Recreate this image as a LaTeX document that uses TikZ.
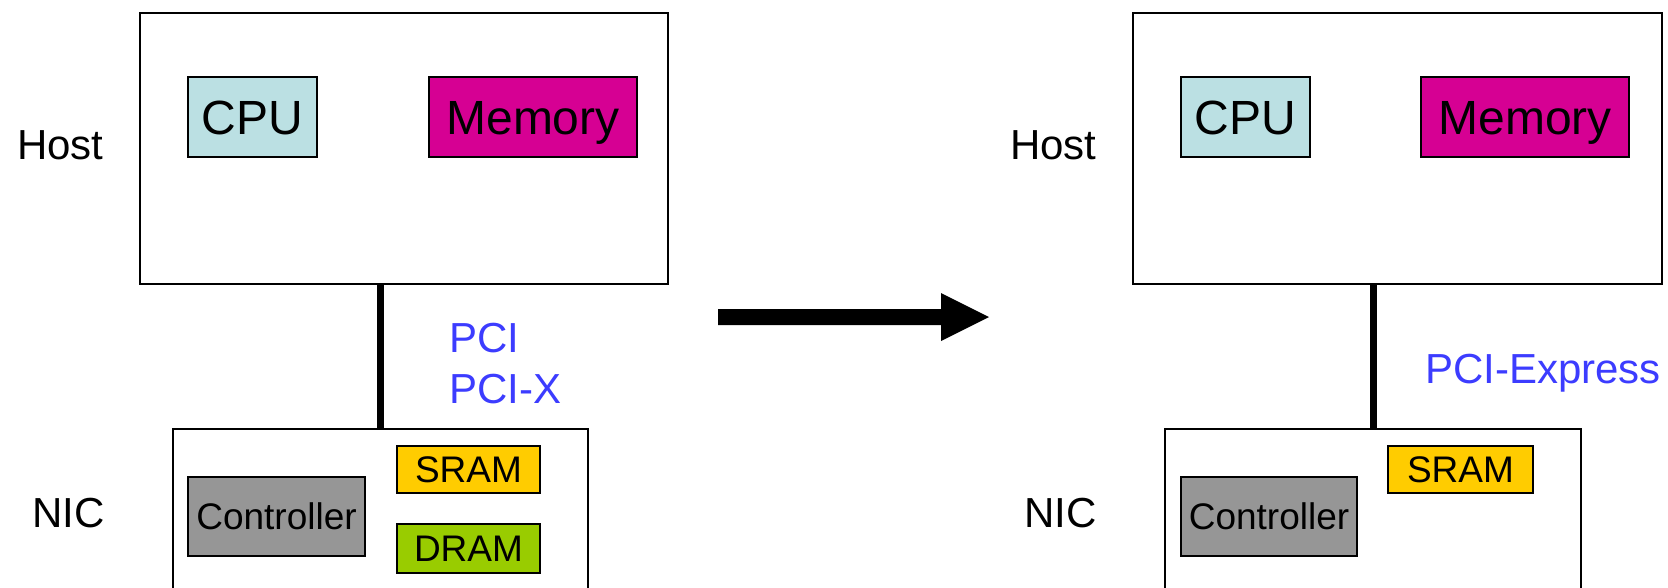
\documentclass[tikz,border=0pt]{standalone}
\usepackage{fontspec}
\setmainfont{Liberation Sans}
\definecolor{pciblue}{RGB}{60,60,255}
\definecolor{cpufill}{RGB}{187,224,227}
\definecolor{memfill}{RGB}{214,0,147}
\definecolor{ctrlfill}{RGB}{150,150,150}
\definecolor{sramfill}{RGB}{255,204,0}
\definecolor{dramfill}{RGB}{153,204,0}
\begin{document}
\begin{tikzpicture}[x=1pt,y=-1pt,
  outerbox/.style={draw, line width=2.5pt, inner sep=0pt, outer sep=0pt, anchor=north west},
  innerbox/.style={draw, line width=2pt, inner sep=0pt, outer sep=0pt, anchor=north west},
  lbl/.style={anchor=base west, inner sep=0pt, font=\fontsize{42}{50}\selectfont},
  bus/.style={line width=7pt},
  big/.style={font=\fontsize{48}{56}\selectfont, text height=34pt, text depth=0pt},
  small/.style={font=\fontsize{37}{44}\selectfont, text height=26.5pt, text depth=0pt}
]
\useasboundingbox (0,0) rectangle (1668,587);
\clip (0,0) rectangle (1668,587);
\fill[white] (0,0) rectangle (1668,587);

% ---- left ----
\node[outerbox, minimum width=528pt, minimum height=271pt] (hostL) at (140,13) {};
\node[innerbox, big, fill=cpufill, minimum width=129pt, minimum height=80pt] (cpuL) at (188,77) {CPU};
\node[innerbox, big, fill=memfill, minimum width=208pt, minimum height=80pt] (memL) at (429,77) {Memory};
\node[lbl] (hostlblL) at (17,159) {Host};
\node[outerbox, minimum width=415pt, minimum height=200pt] (nicL) at (173,429) {};
\node[innerbox, small, fill=ctrlfill, minimum width=177pt, minimum height=79pt] (ctrlL) at (188,477) {Controller};
\node[innerbox, small, fill=sramfill, minimum width=143pt, minimum height=47pt] (sramL) at (397,446) {SRAM};
\node[innerbox, small, fill=dramfill, minimum width=143pt, minimum height=49pt] (dramL) at (397,524) {DRAM};
\node[lbl] (niclblL) at (32,527) {NIC};
\draw[bus] (nicL.north) -- (nicL.north |- hostL.south);
\node[lbl, text=pciblue] (pci) at (449,352) {PCI};
\node[lbl, text=pciblue] (pcix) at (449,403) {PCI-X};

% ---- arrow ----
\fill (718,309) -- (941,309) -- (941,293) -- (989,317) -- (941,341) -- (941,325) -- (718,325) -- cycle;

% ---- right ----
\node[outerbox, minimum width=529pt, minimum height=271pt] (hostR) at (1133,13) {};
\node[innerbox, big, fill=cpufill, minimum width=129pt, minimum height=80pt] (cpuR) at (1181,77) {CPU};
\node[innerbox, big, fill=memfill, minimum width=208pt, minimum height=80pt] (memR) at (1421,77) {Memory};
\node[lbl] (hostlblR) at (1010,159) {Host};
\node[outerbox, minimum width=416pt, minimum height=200pt] (nicR) at (1165,429) {};
\node[innerbox, small, fill=ctrlfill, minimum width=176pt, minimum height=79pt] (ctrlR) at (1181,477) {Controller};
\node[innerbox, small, fill=sramfill, minimum width=145pt, minimum height=47pt] (sramR) at (1388,446) {SRAM};
\node[lbl] (niclblR) at (1024,527) {NIC};
\draw[bus] (nicR.north) -- (nicR.north |- hostR.south);
\node[lbl, text=pciblue] (pcie) at (1425,383) {PCI-Express};
\end{tikzpicture}
\end{document}
